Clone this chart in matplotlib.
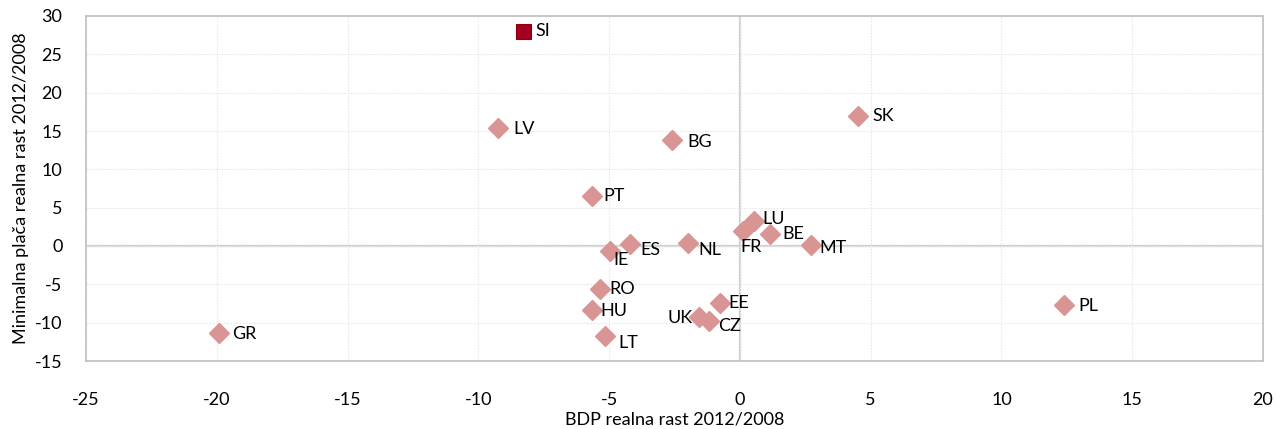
import matplotlib
matplotlib.use("Agg")
import matplotlib.pyplot as plt

countries = ["SI", "LV", "BG", "SK", "PT", "LU", "FR", "BE", "MT", "NL",
             "ES", "IE", "RO", "HU", "EE", "UK", "CZ", "LT", "GR", "PL"]
gdp_growth = [-8.3, -9.25, -2.6, 4.5, -5.65, 0.55, 0.1, 1.15, 2.7, -2.0,
              -4.2, -4.95, -5.35, -5.65, -0.75, -1.55, -1.2, -5.15, -19.9, 12.4]
minwage_growth = [28.0, 15.4, 13.8, 17.0, 6.5, 3.3, 2.0, 1.6, 0.1, 0.4,
                  0.2, -0.6, -5.6, -8.4, -7.4, -9.2, -9.8, -11.8, -11.3, -7.7]
x_ticks = [-25, -20, -15, -10, -5, 0, 5, 10, 15, 20]
y_ticks = [-15, -10, -5, 0, 5, 10, 15, 20, 25, 30]
x_label = "BDP realna rast 2012/2008"
y_label = "Minimalna plača realna rast 2012/2008"
highlight = "SI"

# label offsets in pixels (dx right, dy down)
label_offsets = {
    "SI": (13, 0), "LV": (15, 1), "BG": (15, 2), "SK": (15, 0), "PT": (11, 0),
    "LU": (8, -2), "FR": (-2, 16), "BE": (12, 0), "MT": (9, 3), "NL": (11, 7),
    "ES": (10, 6), "IE": (3, 9), "RO": (9, 0), "HU": (8, 1), "EE": (8, 0),
    "UK": (-7, 1), "CZ": (10, 5), "LT": (13, 7), "GR": (13, 1), "PL": (14, 1),
}

plt.rcParams["font.family"] = ["Lato", "DejaVu Sans"]
W, H = 1278, 429
fig = plt.figure(figsize=(W / 100, H / 100), dpi=100)
ax = fig.add_axes([86 / W, 1 - 361 / H, (1263 - 86) / W, (361 - 16) / H])

ax.set_xlim(-25, 20)
ax.set_ylim(-15, 30)
ax.set_xticks(x_ticks)
ax.set_yticks(y_ticks)
ax.set_xticklabels([str(t) for t in x_ticks])
ax.set_yticklabels([str(t) for t in y_ticks])
ax.tick_params(axis="both", length=0, labelsize=13, colors="#000000")
ax.tick_params(axis="x", pad=22)
ax.tick_params(axis="y", pad=17)

ax.grid(True, color="#E8E8E8", linestyle=(0, (1.5, 1.2)), linewidth=0.8, zorder=0)
ax.axhline(0, color="#D0D0D0", linewidth=1.6, zorder=1)
ax.axvline(0, color="#D0D0D0", linewidth=1.6, zorder=1)
for s in ax.spines.values():
    s.set_color("#BFBFBF")
    s.set_linewidth(1.2)

for c, x, y in zip(countries, gdp_growth, minwage_growth):
    if c == highlight:
        ax.plot(x, y, marker="s", markersize=10.8, color="#A50021",
                markeredgecolor="#8B0000", markeredgewidth=0.8, zorder=3)
    else:
        ax.plot(x, y, marker="D", markersize=10.2, color="#D99594",
                markeredgecolor="#D99594", zorder=3)
    dx, dy = label_offsets[c]
    ha = "right" if c == "UK" else "left"
    ax.annotate(c, (x, y), xytext=(dx * 0.72, -dy * 0.72), textcoords="offset points",
                ha=ha, va="center", fontsize=13, color="#000000", zorder=4)

ax.set_xlabel(x_label, fontsize=13, labelpad=3)
ax.set_ylabel(y_label, fontsize=13, labelpad=4)

fig.savefig("out.png", dpi=100, facecolor="white")
